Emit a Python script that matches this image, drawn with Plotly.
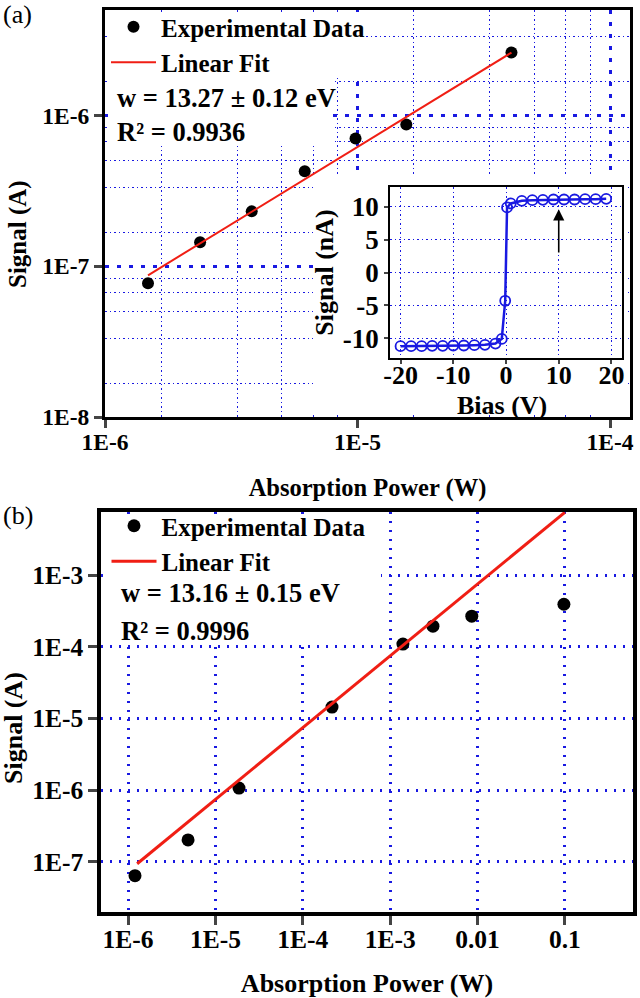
import plotly.graph_objects as go

W, H = 640, 998

# ---------------- data ----------------
# panel (a)
a_power = [1.48e-6, 2.38e-6, 3.81e-6, 6.18e-6, 9.82e-6, 1.56e-5, 4.07e-5]
a_signal = [7.7e-8, 1.44e-7, 2.31e-7, 4.26e-7, 7.04e-7, 8.7e-7, 2.61e-6]
a_fit_power = [1.48e-6, 4.07e-5]
a_fit_signal = [8.7e-8, 2.61e-6]

# inset of panel (a)
bias = [-20, -18, -16, -14, -12, -10, -8, -6, -4, -2, -0.8, -0.15, 0.2, 0.9,
        3, 5, 7, 9, 11, 13, 15, 17, 19]
inset_signal = [-11.2, -11.2, -11.2, -11.15, -11.15, -11.1, -11.1, -11.05, -11.0,
                -10.8, -10.1, -4.3, 9.9, 10.5, 10.9, 11.0, 11.05, 11.1, 11.1,
                11.1, 11.15, 11.15, 11.2]

# panel (b)
b_power = [1.2e-6, 4.86e-6, 1.86e-5, 2.16e-4, 1.4e-3, 3.09e-3, 8.6e-3, 0.0975]
b_signal = [6.4e-8, 2.02e-7, 1.07e-6, 1.44e-5, 1.09e-4, 1.94e-4, 2.67e-4, 3.92e-4]
b_fit_power = [1.27e-6, 0.1]
b_fit_signal = [9.4e-8, 7.5e-3]

# tick labels
a_xticks = [1e-6, 1e-5, 1e-4]
a_xticktext = ["1E-6", "1E-5", "1E-4"]
a_yticks = [1e-8, 1e-7, 1e-6]
a_yticktext = ["1E-8", "1E-7", "1E-6"]
minor_mults = [1.667, 3.333, 5.0, 6.667, 8.333]
a_xminor = [m * d for d in [1e-6, 1e-5, 1e-4] for m in minor_mults]
a_yminor = [m * d for d in [1e-8, 1e-7, 1e-6] for m in minor_mults]
inset_xticks = [-20, -10, 0, 10, 20]
inset_xticktext = ["-20", "-10", "0", "10", "20"]
inset_yticks = [-10, -5, 0, 5, 10]
inset_yticktext = ["-10", "-5", "0", "5", "10"]
b_xticks = [1e-6, 1e-5, 1e-4, 1e-3, 1e-2, 1e-1]
b_xticktext = ["1E-6", "1E-5", "1E-4", "1E-3", "0.01", "0.1"]
b_yticks = [1e-7, 1e-6, 1e-5, 1e-4, 1e-3]
b_yticktext = ["1E-7", "1E-6", "1E-5", "1E-4", "1E-3"]

# ---------------- helpers ----------------
def xd(p0, p1):
    return [p0 / W, p1 / W]

def yd(p0, p1):  # p0 top pixel, p1 bottom pixel
    return [1 - p1 / H, 1 - p0 / H]

def px(x):
    return x / W

def py(y):
    return 1 - y / H

FONT = "Liberation Serif"
BLUE = "rgb(25,25,225)"
RED = "rgb(240,30,20)"

def bfont(size, color="black"):
    return dict(family=FONT, size=size, color=color, weight="bold")

def cover_axes(n, x0, x1, y0, y1):
    return {
        f"xaxis{n}": dict(domain=xd(x0, x1), visible=False, anchor=f"y{n}",
                          range=[0, 1], automargin=False),
        f"yaxis{n}": dict(domain=yd(y0, y1), visible=False, anchor=f"x{n}",
                          range=[0, 1], automargin=False),
    }

fig = go.Figure()

# panel (a) traces
fig.add_trace(go.Scatter(x=a_power, y=a_signal, mode="markers", name="Experimental Data",
                         marker=dict(color="black", size=12), xaxis="x", yaxis="y",
                         legend="legend"))
fig.add_trace(go.Scatter(x=a_fit_power, y=a_fit_signal, mode="lines", name="Linear Fit",
                         line=dict(color=RED, width=2), xaxis="x", yaxis="y",
                         legend="legend"))
# white cover behind the inset
fig.add_trace(go.Scatter(x=[None], y=[None], xaxis="x2", yaxis="y2", showlegend=False,
                         hoverinfo="skip"))
# inset
fig.add_trace(go.Scatter(x=bias, y=inset_signal, mode="lines+markers", showlegend=False,
                         line=dict(color=BLUE, width=2.5),
                         marker=dict(symbol="circle-open", size=10, color=BLUE,
                                     line=dict(width=1.8, color=BLUE)),
                         xaxis="x3", yaxis="y3"))
# panel (b)
fig.add_trace(go.Scatter(x=b_power, y=b_signal, mode="markers", name="Experimental Data",
                         marker=dict(color="black", size=13), xaxis="x4", yaxis="y4",
                         legend="legend2"))
fig.add_trace(go.Scatter(x=b_fit_power, y=b_fit_signal, mode="lines", name="Linear Fit",
                         line=dict(color=RED, width=3), xaxis="x4", yaxis="y4",
                         legend="legend2"))
# white covers behind legends / fit text
for n in (5, 6, 7):
    fig.add_trace(go.Scatter(x=[None], y=[None], xaxis=f"x{n}", yaxis=f"y{n}",
                             showlegend=False, hoverinfo="skip"))

major_a = dict(showgrid=True, gridcolor=BLUE, gridwidth=2.5, griddash="4px,8px")
minor_a_x = dict(tickmode="array", tickvals=a_xminor, showgrid=True, gridcolor=BLUE,
                 gridwidth=1.2, griddash="1.5px,3px", ticks="")
minor_a_y = dict(tickmode="array", tickvals=a_yminor, showgrid=True, gridcolor=BLUE,
                 gridwidth=1.2, griddash="1.5px,3px", ticks="")

fig.update_layout(
    width=W, height=H,
    margin=dict(l=0, r=0, t=0, b=0, autoexpand=False),
    paper_bgcolor="white", plot_bgcolor="white",
    font=dict(family=FONT, color="black"),
    xaxis=dict(type="log", domain=xd(105, 630), range=[-6, -3.921], anchor="y",
               tickmode="array", tickvals=a_xticks, ticktext=a_xticktext,
               tickfont=bfont(23.5), ticks="outside", ticklen=8, tickwidth=2.5,
               ticklabelstandoff=-6,
               showline=True, linecolor="black", linewidth=3, mirror=True,
               minor=minor_a_x, zeroline=False, automargin=False,
               title=dict(text="Absorption Power (W)", font=bfont(24.5), standoff=25),
               **major_a),
    yaxis=dict(type="log", domain=yd(10, 417), range=[-8, -5.301], anchor="x",
               tickmode="array", tickvals=a_yticks, ticktext=a_yticktext,
               tickfont=bfont(23.5), ticks="outside", ticklen=8, tickwidth=2.5,
               showline=True, linecolor="black", linewidth=3, mirror=True,
               minor=minor_a_y, zeroline=False, automargin=False,
               **major_a),
    xaxis3=dict(domain=xd(390, 622), range=[-22, 22], anchor="y3",
                tickmode="array", tickvals=inset_xticks, ticktext=inset_xticktext,
                tickfont=bfont(26), ticks="outside", ticklen=4, tickwidth=1.5,
                ticklabelstandoff=-11,
                showline=True, linecolor="black", linewidth=1.5, mirror=True,
                showgrid=True, gridcolor=BLUE, gridwidth=1, griddash="1.5px,3px",
                zeroline=False, automargin=False),
    yaxis3=dict(domain=yd(187, 358), range=[-13, 13], anchor="x3",
                tickmode="array", tickvals=inset_yticks, ticktext=inset_yticktext,
                tickfont=bfont(27), ticks="outside", ticklen=4, tickwidth=1.5,
                showline=True, linecolor="black", linewidth=1.5, mirror=True,
                showgrid=True, gridcolor=BLUE, gridwidth=1, griddash="1.5px,3px",
                zeroline=False, automargin=False,
                title=dict(text="Signal (nA)", font=bfont(26), standoff=2)),
    xaxis4=dict(type="log", domain=xd(101, 633), range=[-6.31, -0.22], anchor="y4",
                tickmode="array", tickvals=b_xticks, ticktext=b_xticktext,
                tickfont=bfont(25.5), ticks="outside", ticklen=9, tickwidth=3,
                ticklabelstandoff=-7,
                showline=True, linecolor="black", linewidth=3.5, mirror=True,
                showgrid=True, gridcolor=BLUE, gridwidth=2.5, griddash="2px,7px",
                zeroline=False, automargin=False,
                title=dict(text="Absorption Power (W)", font=bfont(26), standoff=27)),
    yaxis4=dict(type="log", domain=yd(512, 912), range=[-7.70, -2.12], anchor="x4",
                tickmode="array", tickvals=b_yticks, ticktext=b_yticktext,
                tickfont=bfont(25.5), ticks="outside", ticklen=9, tickwidth=3,
                showline=True, linecolor="black", linewidth=3.5, mirror=True,
                showgrid=True, gridcolor=BLUE, gridwidth=2.5, griddash="2px,7px",
                zeroline=False, automargin=False),
    legend=dict(x=px(106), y=py(4), xanchor="left", yanchor="top",
                bgcolor="rgba(0,0,0,0)", borderwidth=0, font=bfont(25), itemwidth=45,
                tracegroupgap=0),
    legend2=dict(x=px(106.5), y=py(503), xanchor="left", yanchor="top",
                 bgcolor="rgba(0,0,0,0)", borderwidth=0, font=bfont(25), itemwidth=45,
                 tracegroupgap=0),
    showlegend=True,
)
fig.update_layout(**cover_axes(2, 313, 628, 176, 415))
fig.update_layout(**cover_axes(5, 108, 365, 12, 75))
fig.update_layout(**cover_axes(6, 108, 333, 75, 146))
fig.update_layout(**cover_axes(7, 105, 381, 515, 644))

def label(text, x, y, size, xanchor="left", angle=0, bold=True):
    f = bfont(size) if bold else dict(family=FONT, size=size, color="black")
    fig.add_annotation(text=text, xref="paper", yref="paper", x=px(x), y=py(y),
                       xanchor=xanchor, yanchor="middle", showarrow=False,
                       textangle=angle, font=f)

# fit results
label("w = 13.27 ± 0.12 eV", 115, 98, 26.5)
label("R² = 0.9936", 115, 132, 26.5)
label("w = 13.16 ± 0.15 eV", 119, 593, 26.5)
label("R² = 0.9996", 119, 631, 26.5)
# y-axis titles (placed off-centre like the original)
label("Signal (A)", 18, 234, 25, xanchor="center", angle=-90)
label("Signal (A)", 13, 728, 26, xanchor="center", angle=-90)
# inset x title
label("Bias (V)", 502, 405, 26, xanchor="center")
# panel letters
label("(a)", 1, 15, 26, bold=False)
label("(b)", 1, 515, 26, bold=False)

# arrow in inset
fig.add_annotation(x=10, y=9.6, ax=10, ay=2.8, xref="x3", yref="y3", axref="x3",
                   ayref="y3", text="", showarrow=True, arrowhead=2, arrowsize=1.4,
                   arrowwidth=1.6, arrowcolor="black")

fig.write_html("out.html", config={"displayModeBar": False},
               post_script="document.body.style.margin='0px';")
